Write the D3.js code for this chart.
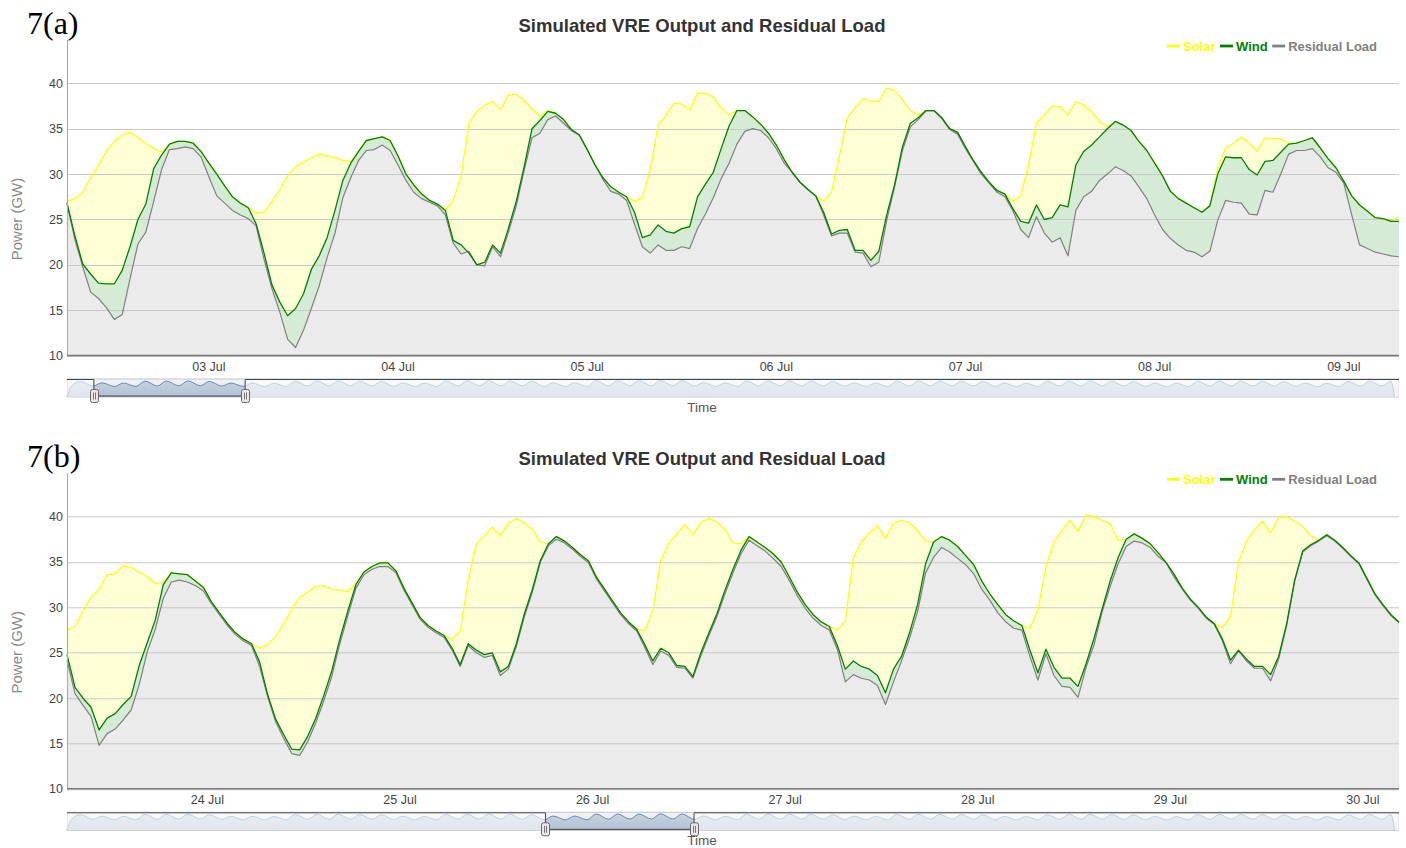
<!DOCTYPE html>
<html>
<head>
<meta charset="utf-8">
<title>Simulated VRE Output and Residual Load</title>
<script src="https://cdn.jsdelivr.net/npm/d3@7"></script>
<style>
  html, body { margin: 0; padding: 0; background: #ffffff; }
  svg { display: block; font-family: "Liberation Sans", Arial, Helvetica, sans-serif; }
</style>
</head>
<body>
<svg id="chart" width="1406" height="848"></svg>
<script>
// ---------------------------------------------------------------------------
// Data (GW). Hourly values; each array is the upper edge of its stacked band:
// residual load, residual + wind, residual + wind + solar.
// ---------------------------------------------------------------------------

// Week (a): hourly from 02 Jul 2011 06:00
const startA = Date.UTC(2011, 6, 2, 6, 0);
const solarA = [
  27.0, 27.3, 28.0, 29.6, 31.0, 32.5, 33.6, 34.3, 34.6, 34.0, 33.4, 32.8, 32.4,
  33.3, 33.6, 33.6, 33.4, 32.5, 31.2, 30.0, 28.7, 27.5, 26.8,
  26.3, 25.7, 25.8, 27.0, 28.3, 29.8, 30.8, 31.3, 31.8, 32.2, 32.0, 31.8, 31.5, 31.4,
  32.5, 33.7, 33.9, 34.1, 33.7, 32.0, 30.0, 28.8, 27.8, 27.1, 26.7,
  26.1, 27.1, 29.8, 35.6, 36.9, 37.6, 38.0, 37.1, 38.7, 38.8, 38.1, 37.2, 36.4, 37.0,
  36.7, 36.0, 34.9, 34.3, 32.7, 31.0, 29.6, 28.6, 28.0, 27.5,
  27.0, 27.4, 30.5, 35.4, 36.5, 37.8, 37.7, 37.1, 38.9, 38.9, 38.5, 37.3, 36.5,
  37.0, 37.0, 36.3, 35.5, 34.5, 33.2, 31.6, 30.2, 29.1, 28.3, 27.6,
  27.0, 28.0, 32.0, 36.2, 37.3, 38.3, 38.0, 38.0, 39.5, 39.2, 38.2, 37.0, 36.5, 37.0,
  37.0, 36.2, 35.0, 34.6, 33.0, 31.5, 30.2, 29.1, 28.2, 27.8,
  27.0, 27.6, 31.0, 35.6, 36.5, 37.5, 37.4, 36.5, 38.0, 37.6, 36.9, 35.8, 35.2, 35.8,
  35.4, 34.8, 33.6, 32.6, 31.2, 29.8, 28.1, 27.3, 26.8, 26.3, 25.8, 26.5,
  30.6, 32.9, 33.4, 34.1, 33.4, 32.5, 34.0, 33.9, 33.9, 33.4,
  33.4, 33.7, 34.0, 32.9, 31.7, 30.7, 29.2, 27.6, 26.6, 25.9, 25.2, 25.1,
  24.8, 25.3
];
const windA = [
  26.8, 23.2, 20.1, 19.0, 18.0, 17.9, 17.9, 19.4, 22.0, 25.0,
  26.7, 30.6, 32.1, 33.3, 33.6, 33.6, 33.4, 32.5, 31.2, 30.0,
  28.7, 27.5, 26.8, 26.3, 24.5, 21.3, 17.8, 15.9, 14.4, 15.2,
  16.8, 19.5, 21.0, 23.0, 26.0, 29.3, 31.2, 32.5, 33.7, 33.9,
  34.1, 33.7, 32.0, 30.0, 28.8, 27.8, 27.1, 26.7, 26.0, 22.7,
  22.2, 21.3, 20.0, 20.3, 22.2, 21.3, 24.0, 27.0, 30.8, 35.0,
  35.9, 36.9, 36.7, 36.0, 34.9, 34.3, 32.7, 31.0, 29.6, 28.6,
  28.0, 27.5, 25.8, 23.0, 23.3, 24.4, 23.7, 23.5, 24.0, 24.2,
  27.5, 28.9, 30.2, 32.8, 35.3, 37.0, 37.0, 36.3, 35.5, 34.5,
  33.2, 31.6, 30.2, 29.1, 28.3, 27.6, 25.8, 23.4, 23.8, 23.9,
  21.6, 21.6, 20.5, 21.5, 25.5, 28.8, 33.0, 35.6, 36.2, 37.0,
  37.0, 36.2, 35.0, 34.6, 33.0, 31.5, 30.2, 29.1, 28.2, 27.8,
  26.2, 24.8, 24.6, 26.6, 25.0, 25.2, 26.6, 26.4, 31.0, 32.5,
  33.2, 34.1, 35.0, 35.8, 35.4, 34.8, 33.6, 32.6, 31.2, 29.8,
  28.1, 27.3, 26.8, 26.3, 25.8, 26.5, 30.0, 31.9, 31.8, 31.8,
  30.5, 29.9, 31.4, 31.5, 32.4, 33.3, 33.4, 33.7, 34.0, 32.9,
  31.7, 30.7, 29.2, 27.6, 26.6, 25.9, 25.2, 25.1, 24.8, 24.8
];
const residualA = [
  26.8, 22.8, 19.8, 17.0, 16.3, 15.3, 14.0, 14.5, 18.5, 22.3,
  23.6, 27.0, 30.5, 32.7, 32.8, 33.0, 32.8, 31.9, 29.7, 27.6,
  26.8, 26.0, 25.5, 25.1, 24.3, 20.6, 17.4, 14.8, 11.8, 10.9,
  12.8, 15.2, 17.7, 20.8, 23.5, 27.4, 29.6, 31.5, 32.6, 32.7,
  33.2, 32.6, 31.0, 29.3, 28.0, 27.3, 26.9, 26.5, 25.5, 22.4,
  21.2, 21.5, 20.0, 19.9, 22.0, 20.9, 23.6, 26.5, 30.4, 34.0,
  34.5, 36.0, 36.4, 35.6, 34.8, 34.3, 32.7, 31.0, 29.4, 28.1,
  27.8, 27.1, 24.5, 22.0, 21.3, 22.2, 21.6, 21.6, 22.0, 21.8,
  24.0, 25.6, 27.4, 29.5, 31.2, 33.3, 34.7, 35.0, 34.8, 34.0,
  32.8, 31.2, 30.2, 29.1, 28.3, 27.6, 25.5, 23.2, 23.5, 23.5,
  21.4, 21.3, 19.8, 20.3, 24.9, 28.6, 32.6, 35.2, 36.0, 37.0,
  37.0, 36.1, 34.9, 34.4, 32.8, 31.4, 30.0, 29.0, 28.0, 27.5,
  26.0, 23.9, 23.0, 25.3, 23.5, 22.5, 23.0, 21.0, 26.0, 27.5,
  28.1, 29.3, 30.0, 30.8, 30.4, 29.8, 28.6, 27.3, 25.5, 23.9,
  22.9, 22.2, 21.6, 21.4, 20.9, 21.5, 24.9, 27.1, 26.9, 26.8,
  25.6, 25.5, 28.2, 28.0, 30.0, 32.2, 32.6, 32.6, 32.8, 31.9,
  30.7, 30.2, 29.0, 25.5, 22.2, 21.8, 21.4, 21.2, 21.0, 20.9
];

// Week (b): hourly from 23 Jul 2011 06:30
const startB = Date.UTC(2011, 6, 23, 6, 30);
const solarB = [
  27.5, 27.9, 29.6, 31.1, 32.0, 33.6, 33.7, 34.6, 34.4, 33.9, 33.4, 32.6, 32.8,
  33.8, 33.7, 33.6, 32.9, 32.2, 30.6, 29.4, 28.2, 27.2, 26.5, 26.0,
  25.5, 25.9, 26.8, 28.2, 29.8, 31.1, 31.7, 32.3, 32.4, 32.0, 31.9, 31.7, 32.6,
  33.9, 34.5, 34.9, 34.9, 34.0, 32.1, 30.5, 28.9, 28.0, 27.4, 26.9,
  26.5, 27.4, 33.0, 37.0, 37.9, 38.8, 37.9, 39.3, 39.8, 39.3, 38.6, 37.2,
  37.0, 37.8, 37.3, 36.6, 35.8, 35.1, 33.3, 32.0, 30.7, 29.4, 28.4, 27.6,
  27.4, 29.6, 35.2, 37.1, 38.1, 39.1, 38.0, 39.4, 39.8, 39.4, 38.6, 37.1, 37.0,
  37.8, 37.2, 36.6, 35.9, 35.0, 33.4, 31.7, 30.3, 29.2, 28.4, 27.9,
  27.5, 28.5, 35.5, 37.2, 38.2, 39.0, 37.6, 39.3, 39.6, 39.3, 38.5, 37.3,
  37.2, 37.8, 37.4, 36.7, 35.7, 34.7, 32.9, 31.5, 30.3, 29.2, 28.5, 28.0,
  27.7, 29.7, 34.5, 37.2, 38.5, 39.6, 38.4, 40.2, 40.0, 39.6, 39.2, 37.4, 37.5,
  38.1, 37.6, 37.0, 36.0, 34.9, 33.6, 32.1, 30.9, 30.0, 28.9, 28.2,
  27.8, 29.0, 35.0, 37.3, 38.6, 39.5, 38.2, 39.9, 40.0, 39.5, 38.9, 37.9,
  37.4, 38.0, 37.4, 36.6, 35.7, 34.9, 33.2, 31.5, 30.3, 29.2, 28.4
];
const windB = [
  24.8, 21.2, 20.0, 19.0, 16.5, 17.8, 18.3, 19.3, 20.2, 23.6,
  26.1, 28.6, 32.5, 33.8, 33.7, 33.6, 32.9, 32.2, 30.6, 29.4,
  28.2, 27.2, 26.5, 26.0, 24.0, 20.4, 17.7, 16.0, 14.4, 14.3,
  15.8, 17.8, 20.3, 23.0, 26.5, 29.6, 32.5, 33.9, 34.5, 34.9,
  34.9, 34.0, 32.1, 30.5, 28.9, 28.0, 27.4, 26.9, 25.5, 23.7,
  26.0, 25.3, 24.8, 25.0, 22.9, 23.5, 26.0, 29.3, 32.0, 35.2,
  37.0, 37.8, 37.3, 36.6, 35.8, 35.1, 33.3, 32.0, 30.7, 29.4,
  28.4, 27.6, 25.9, 24.1, 25.5, 25.0, 23.6, 23.5, 22.4, 25.0,
  27.2, 29.3, 31.9, 34.2, 36.3, 37.8, 37.2, 36.6, 35.9, 35.0,
  33.4, 31.7, 30.3, 29.2, 28.4, 27.9, 25.8, 23.2, 24.1, 23.5,
  23.2, 22.5, 20.6, 23.2, 24.6, 27.2, 30.3, 34.8, 37.2, 37.8,
  37.4, 36.7, 35.7, 34.7, 32.9, 31.5, 30.3, 29.2, 28.5, 28.0,
  25.3, 22.8, 25.4, 23.4, 22.2, 22.2, 21.3, 23.8, 26.6, 29.8,
  32.9, 35.5, 37.5, 38.1, 37.6, 37.0, 36.0, 34.9, 33.6, 32.1,
  30.9, 30.0, 28.9, 28.2, 26.5, 24.2, 25.3, 24.3, 23.5, 23.5,
  22.6, 24.6, 28.2, 33.0, 36.2, 36.9, 37.4, 38.0, 37.4, 36.6,
  35.7, 34.9, 33.2, 31.5, 30.3, 29.2, 28.4
];
const residualB = [
  24.2, 20.5, 19.2, 18.0, 14.8, 16.1, 16.6, 17.6, 18.7, 21.5,
  25.1, 27.6, 31.0, 32.8, 33.0, 32.8, 32.4, 31.8, 30.4, 29.2,
  28.0, 27.0, 26.3, 25.8, 23.5, 20.2, 17.4, 15.6, 13.9, 13.7,
  15.2, 17.3, 19.7, 22.4, 26.0, 29.1, 32.1, 33.6, 34.2, 34.5,
  34.5, 33.8, 31.9, 30.3, 28.7, 27.8, 27.2, 26.7, 25.3, 23.5,
  25.8, 25.0, 24.5, 24.7, 22.5, 23.2, 25.7, 29.0, 31.7, 35.0,
  36.8, 37.5, 37.1, 36.4, 35.6, 34.9, 33.1, 31.8, 30.5, 29.2,
  28.2, 27.4, 25.6, 23.7, 25.2, 24.7, 23.4, 23.3, 22.2, 24.7,
  26.9, 29.0, 31.5, 33.8, 35.9, 37.4, 36.8, 36.2, 35.4, 34.5,
  33.0, 31.3, 29.9, 28.8, 28.0, 27.5, 25.4, 21.8, 22.6, 22.2,
  22.0, 21.4, 19.3, 21.8, 24.1, 26.6, 29.5, 33.8, 35.5, 36.6,
  36.1, 35.4, 34.7, 33.7, 32.0, 30.8, 29.4, 28.4, 27.7, 27.5,
  24.6, 22.0, 24.9, 22.5, 21.3, 21.2, 20.1, 23.4, 25.9, 29.5,
  32.3, 34.8, 36.7, 37.3, 37.1, 36.6, 35.6, 34.9, 33.3, 32.0,
  30.8, 29.9, 28.8, 28.1, 26.3, 23.8, 25.2, 24.1, 23.3, 23.3,
  21.9, 24.3, 28.0, 32.9, 36.1, 36.8, 37.3, 37.9, 37.3, 36.5,
  35.6, 34.8, 33.1, 31.4, 30.2, 29.1, 28.3
];

// Navigator overview (01 Jul - 31 Aug 2011): daily night low and afternoon high of total load
const navStart = Date.UTC(2011, 6, 1);
const navEnd = Date.UTC(2011, 8, 1);
const navEdges = [0, 0];
const navTrough = [
  26.5, 26.8, 25.7, 25.8, 27.0, 27.2, 27.5,
  26.8, 26.0, 25.4, 25.6, 26.9, 27.2, 27.3,
  27.0, 26.2, 25.5, 25.7, 27.1, 27.3, 27.4,
  27.0, 25.5, 25.5, 25.6, 27.0, 27.4, 27.5,
  27.5, 26.5, 25.6, 25.8, 27.0, 27.2, 27.1,
  26.9, 26.1, 25.4, 25.6, 26.9, 27.1, 27.2,
  26.8, 26.0, 25.3, 25.5, 26.8, 27.0, 27.1,
  26.7, 25.9, 25.2, 25.4, 26.7, 26.9, 27.0,
  26.6, 25.8, 25.1, 25.3, 26.6, 26.8
];
const navPeak = [
  38.0, 34.6, 34.1, 38.8, 39.0, 39.5, 38.0,
  34.1, 34.2, 33.6, 38.6, 39.0, 39.2, 38.7,
  37.9, 34.4, 33.9, 38.9, 39.3, 39.6, 39.0,
  38.2, 34.8, 34.9, 39.8, 39.8, 39.6, 40.2,
  40.0, 35.0, 34.2, 39.0, 39.4, 39.3, 38.9,
  38.1, 34.5, 33.8, 38.7, 39.1, 39.0, 38.6,
  37.8, 34.0, 33.5, 38.2, 38.8, 39.0, 38.5,
  37.6, 34.1, 33.7, 38.4, 38.9, 38.7, 38.3,
  37.5, 33.9, 33.4, 38.0, 38.6, 38.4
];

const yTicks = [10, 15, 20, 25, 30, 35, 40];
const seriesNames = ["Solar", "Wind", "Residual Load"];
const chartTitle = "Simulated VRE Output and Residual Load";

// ---------------------------------------------------------------------------
// Styling
// ---------------------------------------------------------------------------
const style = {
  lineColor: ["#ffff00", "#008000", "#808080"],
  legendText: ["#ffff00", "#008000", "#808080"],
  fill: ["#ffffd5", "#d6ebd6", "#ebebeb"],
  grid: "#c8c8c8"
};

const HOUR = 3600 * 1000;
const plotLeft = 67, plotRight = 1399;
const plotTop = 39.7, plotBottom = 355.7;
const yMax = 44.8;

const svg = d3.select("#chart");
const defs = svg.append("defs");
const navGrad = defs.append("linearGradient")
  .attr("id", "navBg").attr("x1", 0).attr("y1", 0).attr("x2", 0).attr("y2", 1);
navGrad.append("stop").attr("offset", "0%").attr("stop-color", "#f4f4f6");
navGrad.append("stop").attr("offset", "100%").attr("stop-color", "#d9dce2");

const fmtDay = d3.utcFormat("%d %b");

function drawPanel(p) {
  const g = svg.append("g").attr("transform", `translate(0,${p.dy})`);
  const n = p.residual.length;
  const times = d3.range(n).map(i => new Date(p.start + i * HOUR));

  const x = d3.scaleUtc().domain([times[0], times[n - 1]]).range([plotLeft, plotRight]);
  const y = d3.scaleLinear().domain([10, yMax]).range([plotBottom, plotTop]);

  // Panel tag
  g.append("text")
    .attr("x", 27).attr("y", 33.5)
    .attr("font-family", "'Liberation Serif', 'Times New Roman', serif")
    .attr("font-size", 32).attr("fill", "#000")
    .text(p.tag);

  // Title
  g.append("text")
    .attr("x", 702).attr("y", 32)
    .attr("text-anchor", "middle")
    .attr("font-size", 18.5).attr("font-weight", "bold").attr("fill", "#333")
    .text(chartTitle);

  // Stacked bands: each band fills from its upper edge down to the axis floor
  const bands = [p.solar, p.wind, p.residual];
  const areaGen = d3.area()
    .x((d, i) => x(times[i]))
    .y0(y(10))
    .y1(d => y(d));
  const lineGen = d3.line()
    .x((d, i) => x(times[i]))
    .y(d => y(d));

  bands.forEach((vals, k) => {
    g.append("path")
      .attr("d", areaGen(vals))
      .attr("fill", style.fill[k])
      .attr("stroke", "none");
  });

  // Grid lines
  g.append("g").selectAll("line")
    .data(yTicks)
    .join("line")
    .attr("x1", plotLeft).attr("x2", plotRight)
    .attr("y1", d => Math.round(y(d)) + 0.5)
    .attr("y2", d => Math.round(y(d)) + 0.5)
    .attr("stroke", style.grid)
    .attr("stroke-width", 1);

  // Series lines (wind drawn last so it sits on top where the edges meet)
  [0, 2, 1].forEach(k => {
    g.append("path")
      .attr("d", lineGen(bands[k]))
      .attr("fill", "none")
      .attr("stroke", style.lineColor[k])
      .attr("stroke-width", k === 1 ? 1.3 : 1.2)
      .attr("stroke-linejoin", "round");
  });

  // Y axis line and labels
  g.append("line")
    .attr("x1", plotLeft + 0.5).attr("x2", plotLeft + 0.5)
    .attr("y1", plotTop).attr("y2", plotBottom)
    .attr("stroke", "#a8a8a8");
  g.append("g").selectAll("text")
    .data(yTicks)
    .join("text")
    .attr("x", 63)
    .attr("y", d => y(d) + 4.5)
    .attr("text-anchor", "end")
    .attr("font-size", 12.5)
    .attr("fill", "#444")
    .text(d => d);

  g.append("text")
    .attr("transform", "translate(22,219) rotate(-90)")
    .attr("text-anchor", "middle")
    .attr("font-size", 15)
    .attr("fill", "#888")
    .text("Power (GW)");

  // X axis line and day labels
  g.append("line")
    .attr("x1", plotLeft).attr("x2", plotRight)
    .attr("y1", Math.round(plotBottom) - 0.5).attr("y2", Math.round(plotBottom) - 0.5)
    .attr("stroke", "#7a7a7a").attr("stroke-width", 1.5);
  const dayTicks = x.ticks(d3.utcDay.every(1)).filter(d => x(d) > plotLeft + 20);
  g.append("g").selectAll("text")
    .data(dayTicks)
    .join("text")
    .attr("x", d => x(d))
    .attr("y", plotBottom + 15)
    .attr("text-anchor", "middle")
    .attr("font-size", 12.5)
    .attr("fill", "#444")
    .text(d => fmtDay(d));

  // Legend, right-aligned
  const leg = g.append("g");
  let cx = 0;
  const items = [];
  seriesNames.forEach((name, k) => {
    const it = leg.append("g");
    it.append("line")
      .attr("x1", cx).attr("x2", cx + 13)
      .attr("y1", 46).attr("y2", 46)
      .attr("stroke", style.lineColor[k]).attr("stroke-width", 2.8);
    const t = it.append("text")
      .attr("x", cx + 16).attr("y", 50.5)
      .attr("font-size", 13).attr("font-weight", "bold")
      .attr("fill", style.legendText[k])
      .text(name);
    cx += 16 + t.node().getComputedTextLength() + 4.5;
    items.push(it);
  });
  leg.attr("transform", `translate(${1377 - (cx - 4.5)},0)`);

  // Navigator
  const navTop = 379, navBottom = 397;
  const nx = d3.scaleUtc().domain([new Date(navStart), new Date(navEnd)]).range([plotLeft, plotRight]);
  const ny = d3.scaleLinear().domain([0, 41.5]).range([navBottom, navTop + 1]);
  const DAY = 24 * HOUR;
  const navPts = [{ t: navStart, v: navEdges[0] }];
  navPeak.forEach((pk, d) => {
    navPts.push({ t: navStart + d * DAY + 5 * HOUR, v: navTrough[d] });
    navPts.push({ t: navStart + d * DAY + 15 * HOUR, v: pk });
  });
  navPts.push({ t: navEnd - 5 * HOUR, v: navEdges[1] });

  g.append("rect")
    .attr("x", plotLeft + 0.5).attr("y", navTop)
    .attr("width", plotRight - plotLeft - 1).attr("height", navBottom - navTop)
    .attr("fill", "url(#navBg)")
    .attr("stroke", "#c4c4c4").attr("stroke-width", 1);

  const navArea = d3.area()
    .curve(d3.curveMonotoneX)
    .x(d => nx(new Date(d.t))).y0(navBottom).y1(d => ny(d.v));
  const navLine = d3.line()
    .curve(d3.curveMonotoneX)
    .x(d => nx(new Date(d.t))).y(d => ny(d.v));
  g.append("path").attr("d", navArea(navPts))
    .attr("fill", "#4572a7").attr("fill-opacity", 0.26);
  g.append("path").attr("d", navLine(navPts))
    .attr("fill", "none").attr("stroke", "#4572a7").attr("stroke-opacity", 0.75).attr("stroke-width", 1);

  const xs = nx(times[0]), xe = nx(times[n - 1]);
  // masks over the part outside the shown week
  g.append("rect").attr("x", plotLeft).attr("y", navTop)
    .attr("width", Math.max(0, xs - plotLeft)).attr("height", navBottom - navTop)
    .attr("fill", "#ffffff").attr("fill-opacity", 0.6);
  g.append("rect").attr("x", xe).attr("y", navTop)
    .attr("width", Math.max(0, plotRight - xe)).attr("height", navBottom - navTop)
    .attr("fill", "#ffffff").attr("fill-opacity", 0.6);

  // outline around the selected range
  g.append("path")
    .attr("d", `M${plotLeft},${navTop + 0.5}H${xs}V${navBottom - 1}H${xe}V${navTop + 0.5}H${plotRight}`)
    .attr("fill", "none").attr("stroke", "#444").attr("stroke-width", 1);

  // handles
  [xs, xe].forEach(hx => {
    const h = g.append("g").attr("transform", `translate(${Math.round(hx) + 0.5},${navBottom - 1})`);
    h.append("rect")
      .attr("x", -4).attr("y", -6.5).attr("width", 8).attr("height", 13).attr("rx", 2)
      .attr("fill", "#ebe7e8").attr("stroke", "#666").attr("stroke-width", 1);
    h.append("line").attr("x1", -1).attr("x2", -1).attr("y1", -3.5).attr("y2", 3.5)
      .attr("stroke", "#777");
    h.append("line").attr("x1", 1).attr("x2", 1).attr("y1", -3.5).attr("y2", 3.5)
      .attr("stroke", "#777");
  });

  g.append("text")
    .attr("x", 702).attr("y", 412)
    .attr("text-anchor", "middle")
    .attr("font-size", 13.5)
    .attr("fill", "#555")
    .text("Time");
}

drawPanel({ tag: "7(a)", dy: 0, start: startA, solar: solarA, wind: windA, residual: residualA });
drawPanel({ tag: "7(b)", dy: 433.3, start: startB, solar: solarB, wind: windB, residual: residualB });
</script>
</body>
</html>
